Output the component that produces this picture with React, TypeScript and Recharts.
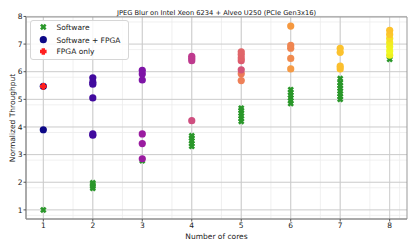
import { ScatterChart, Scatter, XAxis, YAxis, CartesianGrid, ReferenceArea, Cell } from 'recharts';

const cores = [1, 2, 3, 4, 5, 6, 7, 8];
const tickValues = [1, 2, 3, 4, 5, 6, 7, 8];

// software-only runs, one list per core count
const softwareThroughput = [
  [1.0],
  [1.78, 1.85, 1.92, 1.98],
  [2.78],
  [3.3, 3.4, 3.5, 3.6, 3.68],
  [4.2, 4.3, 4.4, 4.5, 4.6, 4.68],
  [4.85, 4.95, 5.05, 5.15, 5.25, 5.35],
  [5.0, 5.1, 5.2, 5.3, 5.4, 5.5, 5.6, 5.75],
  [6.45, 6.55],
];

// software + FPGA runs
const swFpgaThroughput = [
  [3.9, 5.47],
  [3.7, 3.75, 5.05, 5.55, 5.62, 5.78],
  [2.85, 3.4, 3.75, 5.7, 5.92, 6.05],
  [4.23, 6.4, 6.48, 6.56],
  [5.68, 5.93, 6.07, 6.4, 6.5, 6.62, 6.72],
  [6.1, 6.48, 6.85, 6.95, 7.65],
  [6.1, 6.2, 6.7, 6.85],
  [6.6, 6.75, 6.9, 7.05, 7.2, 7.35, 7.5],
];

const swFpgaShade = [
  ['#0d0887', '#0d0887'],
  ['#410a9e', '#410a9e', '#410a9e', '#410a9e', '#410a9e', '#410a9e'],
  ['#9a1ca0', '#9a1ca0', '#9a1ca0', '#7e14a6', '#7e14a6', '#7e14a6'],
  ['#cf4f80', '#be3a8e', '#be3a8e', '#be3a8e'],
  ['#ee8058', '#ec7a58', '#d35478', '#dc5a6e', '#e0626a', '#e0646a', '#e0666a'],
  ['#f59a45', '#f08a4e', '#ef8550', '#ef8550', '#f5983f'],
  ['#fbbf2e', '#fbbf2e', '#fbc22e', '#fbc22e'],
  ['#eef020', '#f0f921', '#f0f321', '#f2ec22', '#f6e025', '#fcc82a', '#fdc22c'],
];

const fpgaOnlyCores = [1];
const fpgaOnlyThroughput = [5.47];

const softwarePoints = cores.flatMap((c, i) => softwareThroughput[i].map((y) => ({ x: c, y })));
const swFpgaPoints = cores.flatMap((c, i) =>
  swFpgaThroughput[i].map((y, j) => ({ x: c, y, color: swFpgaShade[i][j] }))
);
const fpgaOnlyPoints = fpgaOnlyCores.map((c, i) => ({ x: c, y: fpgaOnlyThroughput[i] }));

const minorX: number[] = [];
for (let v = 0.8; v < 8.35; v += 0.2) minorX.push(Math.round(v * 10) / 10);
const minorY: number[] = [];
for (let v = 0.8; v < 8; v += 0.2) minorY.push(Math.round(v * 10) / 10);

const GREEN = '#2a972a';
const RED = '#ff1f1f';
const FONT = 'DejaVu Sans, sans-serif';

function xPath(cx: number, cy: number, a: number, b: number) {
  // filled X: plus sign rotated by 45 degrees
  const pts = [
    [-b, -a], [b, -a], [b, -b], [a, -b], [a, b], [b, b], [b, a], [-b, a], [-b, b], [-a, b], [-a, -b], [-b, -b],
  ];
  const r = Math.SQRT1_2;
  return pts
    .map(([px, py], k) => `${k === 0 ? 'M' : 'L'}${cx + (px - py) * r},${cy + (px + py) * r}`)
    .join(' ') + ' Z';
}

function plusPath(cx: number, cy: number, a: number, b: number) {
  const pts = [
    [-b, -a], [b, -a], [b, -b], [a, -b], [a, b], [b, b], [b, a], [-b, a], [-b, b], [-a, b], [-a, -b], [-b, -b],
  ];
  return pts.map(([px, py], k) => `${k === 0 ? 'M' : 'L'}${cx + px},${cy + py}`).join(' ') + ' Z';
}

const XMark = (p: any) => <path d={xPath(p.cx, p.cy, 3.3, 1.3)} fill={GREEN} />;
const Dot = (p: any) => <circle cx={p.cx} cy={p.cy} r={3.6} fill={p.payload?.color ?? p.fill} />;
const PlusMark = (p: any) => <path d={plusPath(p.cx, p.cy, 3.3, 1.7)} fill={RED} />;

export default function App() {
  return (
    <div style={{ position: 'absolute', left: 0, top: 0, width: 415, height: 249, background: '#fff' }}>
      <ScatterChart width={415} height={249} margin={{ top: 17, right: 8, bottom: 0, left: 0 }}>
        <CartesianGrid stroke="#ececec" strokeWidth={0.8} horizontalValues={minorY} verticalValues={minorX} />
        <CartesianGrid stroke="#cbcbcb" strokeWidth={1} horizontalValues={tickValues} verticalValues={tickValues} />
        <XAxis
          type="number"
          dataKey="x"
          domain={[0.65, 8.35]}
          ticks={tickValues}
          allowDataOverflow
          height={30}
          tickSize={2.5}
          tickMargin={1}
          tick={{ fontSize: 7.5, fill: '#222', fontFamily: FONT }}
          tickLine={{ stroke: '#555' }}
          axisLine={{ stroke: '#888' }}
        />
        <YAxis
          type="number"
          dataKey="y"
          domain={[0.67, 7.98]}
          ticks={tickValues}
          allowDataOverflow
          width={26}
          tickSize={2.5}
          tickMargin={1}
          tick={{ fontSize: 7.5, fill: '#222', fontFamily: FONT }}
          tickLine={{ stroke: '#555' }}
          axisLine={{ stroke: '#888' }}
        />
        <ReferenceArea x1={0.65} x2={8.35} y1={0.67} y2={7.98} fill="none" stroke="#999" strokeWidth={1} ifOverflow="visible" />
        <Scatter data={softwarePoints} shape={XMark} isAnimationActive={false} />
        <Scatter data={swFpgaPoints} shape={Dot} isAnimationActive={false}>
          {swFpgaPoints.map((pt, i) => (
            <Cell key={`sf-${i}`} fill={pt.color} />
          ))}
        </Scatter>
        <Scatter data={fpgaOnlyPoints} shape={PlusMark} isAnimationActive={false} />
      </ScatterChart>

      <svg width={415} height={249} style={{ position: 'absolute', left: 0, top: 0, pointerEvents: 'none' }}>
        <text x={216.5} y={14.5} textAnchor="middle" fontSize={6.7} fontFamily={FONT} fill="#111">
          JPEG Blur on Intel Xeon 6234 + Alveo U250 (PCIe Gen3x16)
        </text>
        <text x={216.5} y={238.5} textAnchor="middle" fontSize={7.5} fontFamily={FONT} fill="#222">
          Number of cores
        </text>
        <text
          x={0}
          y={0}
          transform="translate(14.5,118) rotate(-90)"
          textAnchor="middle"
          fontSize={7.5}
          fontFamily={FONT}
          fill="#222"
        >
          Normalized Throughput
        </text>

        <rect x={30.5} y={20.5} width={98} height={39} rx={2.5} fill="#fff" fillOpacity={0.85} stroke="#d6d6d6" />
        <path d={xPath(43.3, 27, 3.3, 1.3)} fill={GREEN} />
        <circle cx={43.3} cy={39.7} r={3.6} fill="#0d0887" />
        <path d={plusPath(43.3, 51.5, 3.3, 1.7)} fill={RED} />
        <text x={56.5} y={29.8} fontSize={7.5} fontFamily={FONT} fill="#222">Software</text>
        <text x={56.5} y={42.5} fontSize={7.5} fontFamily={FONT} fill="#222">Software + FPGA</text>
        <text x={56.5} y={54.3} fontSize={7.5} fontFamily={FONT} fill="#222">FPGA only</text>
      </svg>
    </div>
  );
}
